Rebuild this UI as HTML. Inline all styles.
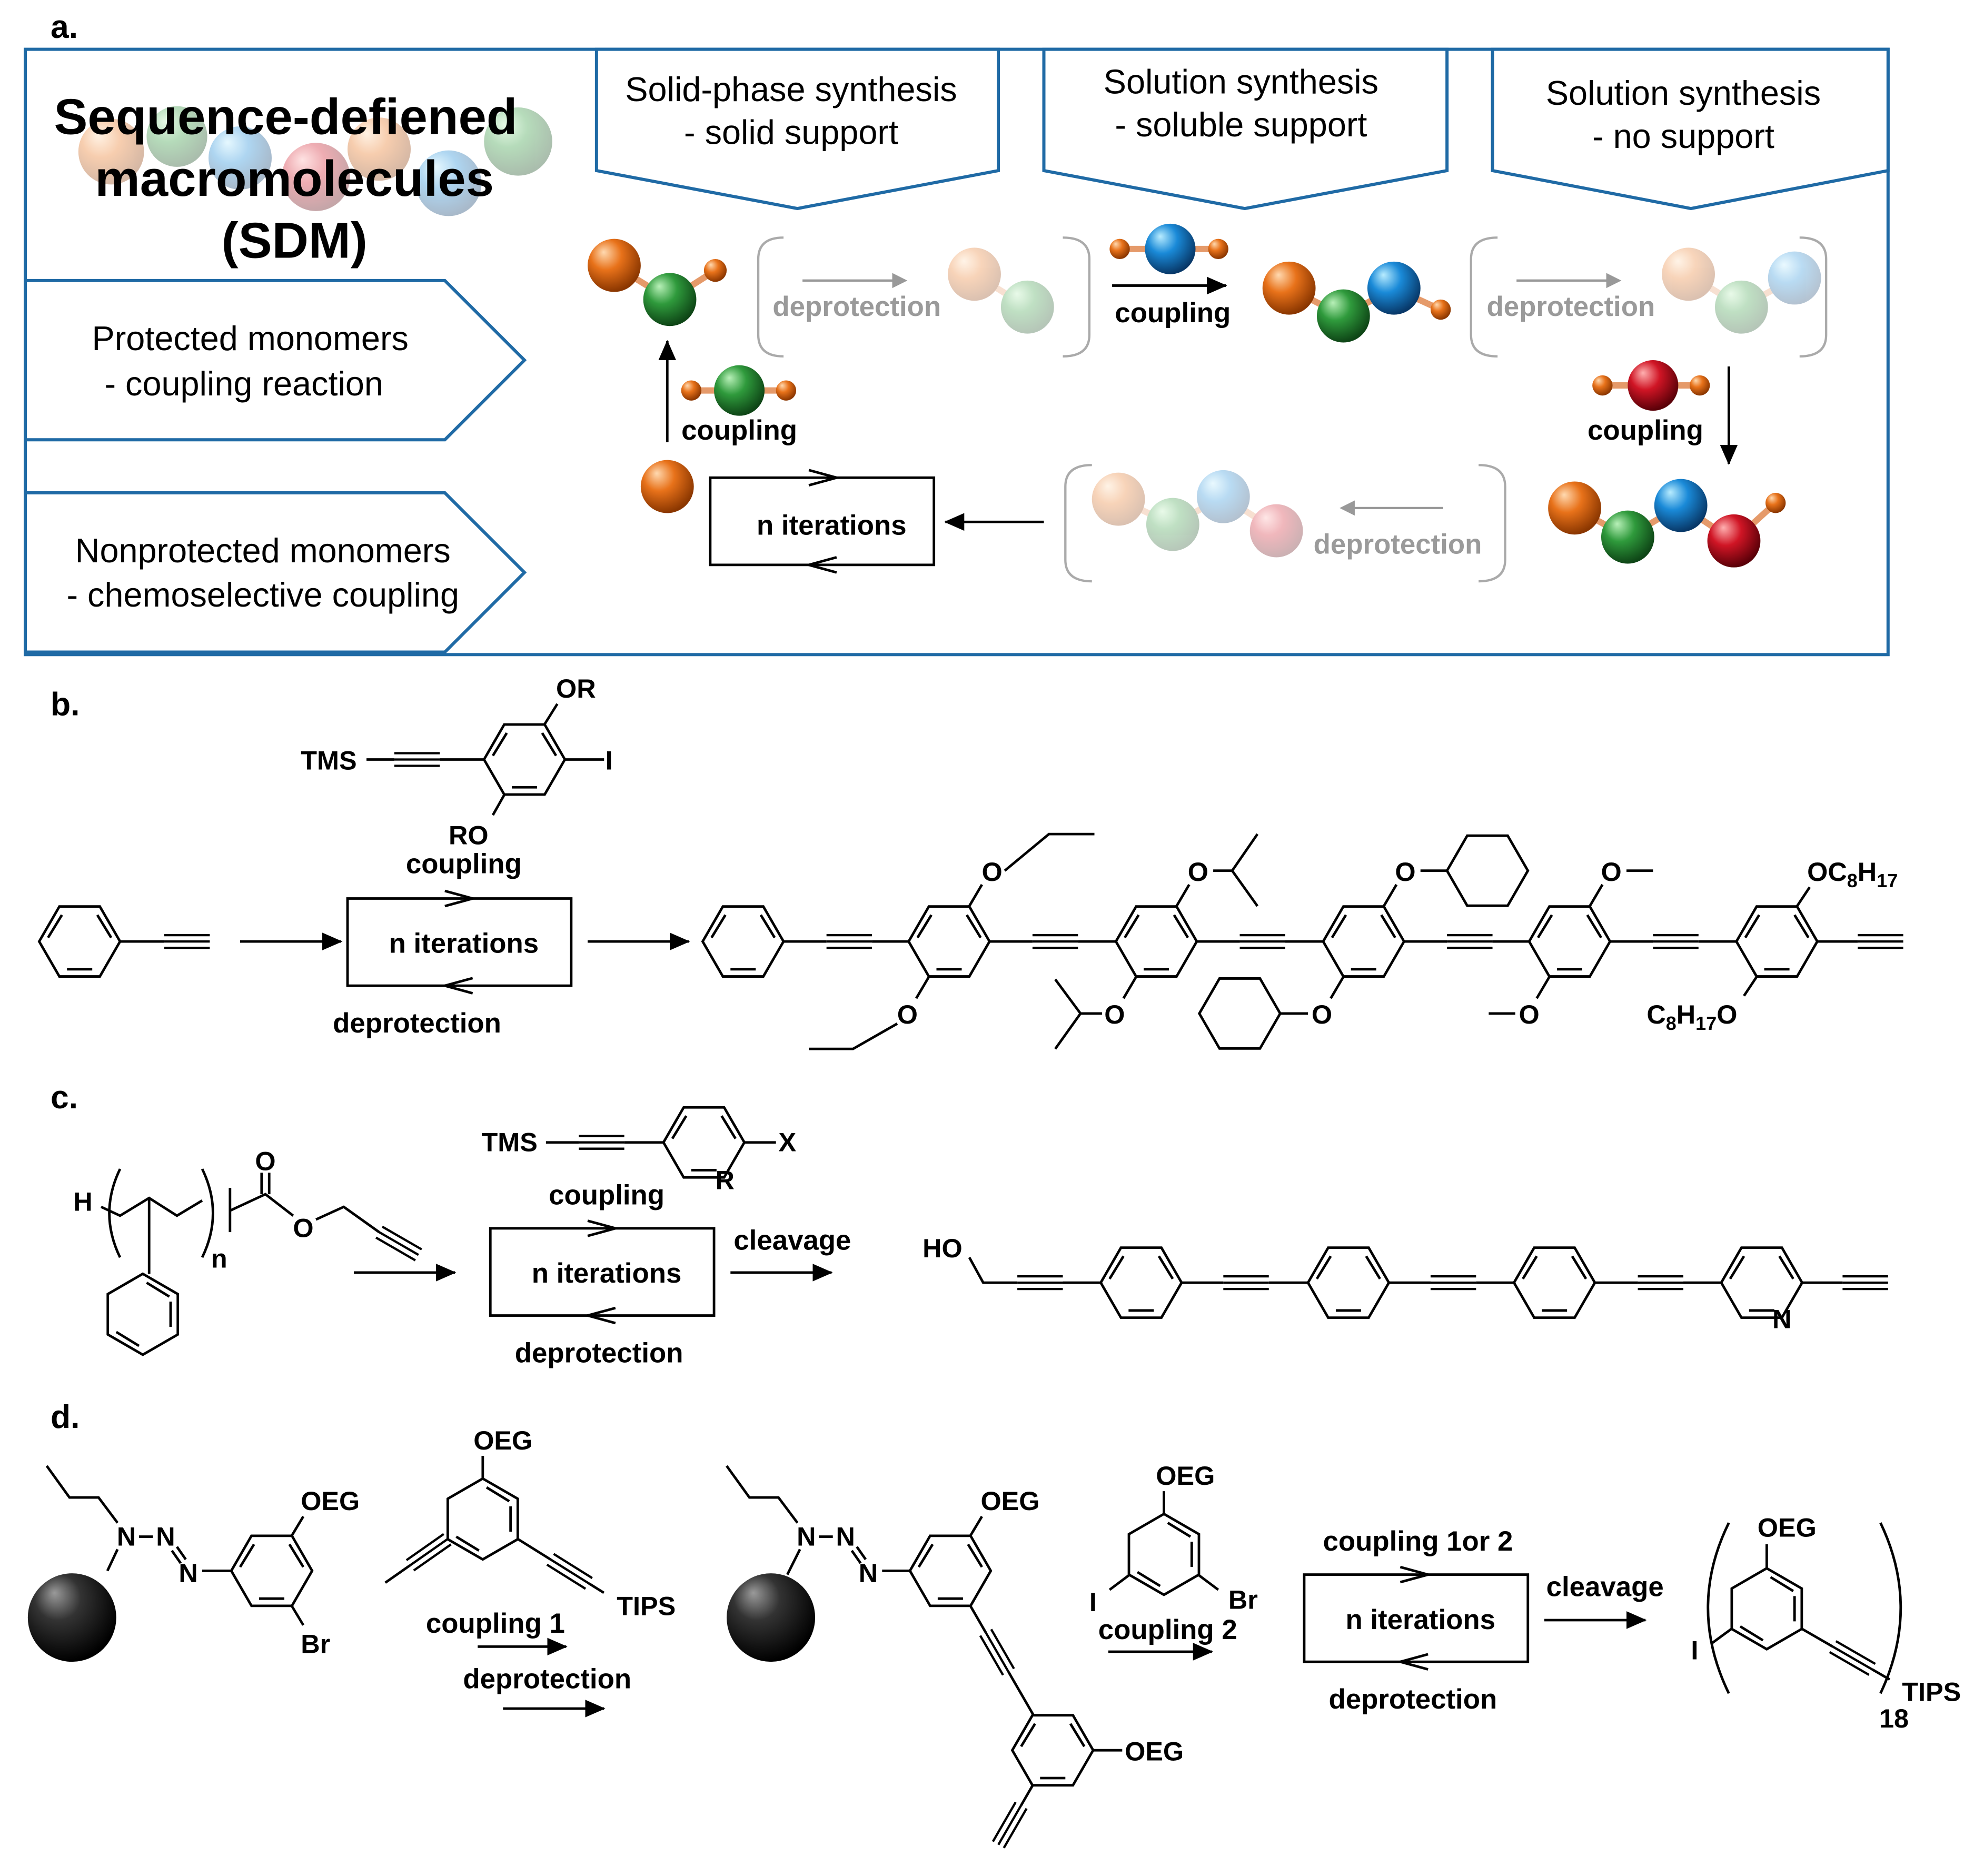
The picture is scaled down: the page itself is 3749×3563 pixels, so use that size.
<!DOCTYPE html>
<html><head><meta charset="utf-8">
<style>
html,body{margin:0;padding:0;background:#fff;}
svg{display:block;}
text{font-family:"Liberation Sans",Arial,sans-serif;}
.b{font-weight:bold;}
.t{font-size:27px;fill:#000;}
.l{font-size:22px;font-weight:bold;fill:#000;}
.c{font-size:21px;font-weight:bold;fill:#000;}
.g{font-size:22px;font-weight:bold;fill:#9a9a9a;}
.ln{stroke:#000;stroke-width:2;fill:none;}
</style></head>
<body>
<svg width="3749" height="3563" viewBox="0 0 1562 1484.5" xmlns="http://www.w3.org/2000/svg">
<defs>
<radialGradient id="gO" cx="0.4" cy="0.35" r="0.65" fx="0.3" fy="0.25"><stop offset="0" stop-color="#ffd9b0"/><stop offset="0.45" stop-color="#e8721a"/><stop offset="1" stop-color="#8a3600"/></radialGradient>
<radialGradient id="gG" cx="0.4" cy="0.35" r="0.65" fx="0.3" fy="0.25"><stop offset="0" stop-color="#b8f0b8"/><stop offset="0.45" stop-color="#2f9a3c"/><stop offset="1" stop-color="#0e4516"/></radialGradient>
<radialGradient id="gB" cx="0.4" cy="0.35" r="0.65" fx="0.3" fy="0.25"><stop offset="0" stop-color="#b8ecff"/><stop offset="0.45" stop-color="#1a8ad8"/><stop offset="1" stop-color="#083868"/></radialGradient>
<radialGradient id="gR" cx="0.4" cy="0.35" r="0.65" fx="0.3" fy="0.25"><stop offset="0" stop-color="#ffb0b0"/><stop offset="0.45" stop-color="#d01525"/><stop offset="1" stop-color="#5a0008"/></radialGradient>
<radialGradient id="gK" cx="0.4" cy="0.35" r="0.65" fx="0.3" fy="0.22"><stop offset="0" stop-color="#9a9a9a"/><stop offset="0.4" stop-color="#333"/><stop offset="1" stop-color="#000"/></radialGradient>
<symbol id="hx" overflow="visible">
<polygon points="32,0 16,27.7 -16,27.7 -32,0 -16,-27.7 16,-27.7" fill="none" stroke="#000" stroke-width="2"/>
<line x1="14" y1="-21" x2="25" y2="-3" stroke="#000" stroke-width="2"/>
<line x1="10" y1="22" x2="-10" y2="22" stroke="#000" stroke-width="2"/>
<line x1="-25" y1="-3" x2="-14" y2="-21" stroke="#000" stroke-width="2"/>
</symbol>
<symbol id="hv" overflow="visible">
<polygon points="0,-32 27.7,-16 27.7,16 0,32 -27.7,16 -27.7,-16" fill="none" stroke="#000" stroke-width="2"/>
<line x1="21" y1="-14" x2="3" y2="-25" stroke="#000" stroke-width="2"/>
<line x1="22" y1="10" x2="22" y2="-10" stroke="#000" stroke-width="2"/>
<line x1="-3" y1="25" x2="-21" y2="14" stroke="#000" stroke-width="2"/>
</symbol>
<symbol id="cy" overflow="visible"><polygon points="32,0 16,27.7 -16,27.7 -32,0 -16,-27.7 16,-27.7" fill="none" stroke="#000" stroke-width="2"/></symbol>
<symbol id="tb" overflow="visible"><line x1="0" y1="-5" x2="36" y2="-5" stroke="#000" stroke-width="1.8"/><line x1="0" y1="0" x2="36" y2="0" stroke="#000" stroke-width="1.8"/><line x1="0" y1="5" x2="36" y2="5" stroke="#000" stroke-width="1.8"/></symbol>
<marker id="ahg" markerWidth="12" markerHeight="12" refX="10" refY="6" orient="auto" markerUnits="userSpaceOnUse" viewBox="0 0 12 12"><path d="M0,0 L12,6 L0,12z" fill="#999"/></marker>
<marker id="ah2" markerWidth="16" markerHeight="14" refX="15" refY="7" orient="auto" markerUnits="userSpaceOnUse" viewBox="0 0 16 14"><path d="M0,0 L16,7 L0,14z" fill="#000"/></marker>
</defs>

<!-- ============ PANEL A ============ -->
<text x="40" y="30" class="b" font-size="26">a.</text>
<rect x="20" y="39" width="1474" height="479" fill="none" stroke="#1f6aa5" stroke-width="2.5"/>
<g fill="#fff" stroke="#1f6aa5" stroke-width="2.5">
<polygon points="472,39 790,39 790,135 631,165 472,135"/>
<polygon points="826,39 1145,39 1145,135 985,165 826,135"/>
<polygon points="1181,39 1494,39 1494,135 1338,165 1181,135"/>
<polygon points="20,222 352,222 415,285 352,348 20,348"/>
<polygon points="20,390 352,390 415,453 352,516 20,516"/>
</g>
<text x="626" y="80" class="t" text-anchor="middle">Solid-phase synthesis</text>
<text x="626" y="114" class="t" text-anchor="middle">- solid support</text>
<text x="982" y="74" class="t" text-anchor="middle">Solution synthesis</text>
<text x="982" y="108" class="t" text-anchor="middle">- soluble support</text>
<text x="1332" y="83" class="t" text-anchor="middle">Solution synthesis</text>
<text x="1332" y="117" class="t" text-anchor="middle">- no support</text>
<text x="198" y="277" class="t" text-anchor="middle">Protected monomers</text>
<text x="193" y="313" class="t" text-anchor="middle">- coupling reaction</text>
<text x="208" y="445" class="t" text-anchor="middle">Nonprotected monomers</text>
<text x="208" y="480" class="t" text-anchor="middle">- chemoselective coupling</text>
<g opacity="0.35">
<circle cx="88" cy="120" r="26" fill="url(#gO)"/><circle cx="140" cy="108" r="24" fill="url(#gG)"/>
<circle cx="190" cy="125" r="25" fill="url(#gB)"/><circle cx="250" cy="140" r="27" fill="url(#gR)"/>
<circle cx="300" cy="118" r="25" fill="url(#gO)"/><circle cx="355" cy="145" r="26" fill="url(#gB)"/>
<circle cx="410" cy="112" r="27" fill="url(#gG)"/>
</g>
<text x="226" y="106" class="b" font-size="40" text-anchor="middle">Sequence-defiened</text>
<text x="233" y="155" class="b" font-size="40" text-anchor="middle">macromolecules</text>
<text x="233" y="204" class="b" font-size="40" text-anchor="middle">(SDM)</text>

<g stroke="#e59a6a" stroke-width="5">
<line x1="486" y1="210" x2="530" y2="237"/><line x1="530" y1="237" x2="566" y2="214"/>
<line x1="880" y1="197" x2="964" y2="197"/>
<line x1="1020" y1="228" x2="1063" y2="250"/><line x1="1063" y1="250" x2="1103" y2="228"/><line x1="1103" y1="228" x2="1140" y2="245"/>
<line x1="1268" y1="305" x2="1345" y2="305"/>
<line x1="547" y1="309" x2="622" y2="309"/>
<line x1="1246" y1="402" x2="1288" y2="425"/><line x1="1288" y1="425" x2="1330" y2="400"/><line x1="1330" y1="400" x2="1372" y2="428"/><line x1="1372" y1="428" x2="1405" y2="398"/>
</g>
<circle cx="486" cy="210" r="21" fill="url(#gO)"/><circle cx="530" cy="237" r="21" fill="url(#gG)"/><circle cx="566" cy="214" r="9" fill="url(#gO)"/>
<circle cx="886" cy="197" r="8" fill="url(#gO)"/><circle cx="926" cy="197" r="20" fill="url(#gB)"/><circle cx="964" cy="197" r="8" fill="url(#gO)"/>
<circle cx="1020" cy="228" r="21" fill="url(#gO)"/><circle cx="1063" cy="250" r="21" fill="url(#gG)"/><circle cx="1103" cy="228" r="21" fill="url(#gB)"/><circle cx="1140" cy="245" r="8" fill="url(#gO)"/>
<circle cx="1268" cy="305" r="8" fill="url(#gO)"/><circle cx="1308" cy="305" r="20" fill="url(#gR)"/><circle cx="1345" cy="305" r="8" fill="url(#gO)"/>
<circle cx="547" cy="309" r="8" fill="url(#gO)"/><circle cx="585" cy="309" r="20" fill="url(#gG)"/><circle cx="622" cy="309" r="8" fill="url(#gO)"/>
<circle cx="1246" cy="402" r="21" fill="url(#gO)"/><circle cx="1288" cy="425" r="21" fill="url(#gG)"/><circle cx="1330" cy="400" r="21" fill="url(#gB)"/><circle cx="1372" cy="428" r="21" fill="url(#gR)"/><circle cx="1405" cy="398" r="8" fill="url(#gO)"/>
<circle cx="528" cy="385" r="21" fill="url(#gO)"/>
<g opacity="0.3">
<line x1="771" y1="217" x2="813" y2="243" stroke="#e59a6a" stroke-width="5"/>
<circle cx="771" cy="217" r="21" fill="url(#gO)"/><circle cx="813" cy="243" r="21" fill="url(#gG)"/>
<line x1="1336" y1="217" x2="1378" y2="243" stroke="#e59a6a" stroke-width="5"/><line x1="1378" y1="243" x2="1420" y2="220" stroke="#e59a6a" stroke-width="5"/>
<circle cx="1336" cy="217" r="21" fill="url(#gO)"/><circle cx="1378" cy="243" r="21" fill="url(#gG)"/><circle cx="1420" cy="220" r="21" fill="url(#gB)"/>
<line x1="885" y1="395" x2="928" y2="415" stroke="#e59a6a" stroke-width="5"/><line x1="928" y1="415" x2="968" y2="393" stroke="#e59a6a" stroke-width="5"/><line x1="968" y1="393" x2="1010" y2="420" stroke="#e59a6a" stroke-width="5"/>
<circle cx="885" cy="395" r="21" fill="url(#gO)"/><circle cx="928" cy="415" r="21" fill="url(#gG)"/><circle cx="968" cy="393" r="21" fill="url(#gB)"/><circle cx="1010" cy="420" r="21" fill="url(#gR)"/>
</g>
<g fill="none" stroke="#aaa" stroke-width="1.8">
<path d="M620,188 Q600,188 600,205 L600,265 Q600,282 620,282"/><path d="M841,188 Q862,188 862,205 L862,265 Q862,282 841,282"/>
<path d="M1185,188 Q1164,188 1164,205 L1164,265 Q1164,282 1185,282"/><path d="M1424,188 Q1445,188 1445,205 L1445,265 Q1445,282 1424,282"/>
<path d="M864,368 Q843,368 843,385 L843,443 Q843,460 864,460"/><path d="M1170,368 Q1191,368 1191,385 L1191,443 Q1191,460 1170,460"/>
</g>
<g stroke="#999" stroke-width="1.8">
<line x1="635" y1="222" x2="716" y2="222" marker-end="url(#ahg)"/>
<line x1="1200" y1="222" x2="1281" y2="222" marker-end="url(#ahg)"/>
<line x1="1142" y1="402" x2="1062" y2="402" marker-end="url(#ahg)"/>
</g>
<text x="678" y="250" class="g" text-anchor="middle">deprotection</text>
<text x="1243" y="250" class="g" text-anchor="middle">deprotection</text>
<text x="1106" y="438" class="g" text-anchor="middle">deprotection</text>
<g stroke="#000" stroke-width="2">
<line x1="880" y1="226" x2="970" y2="226" marker-end="url(#ah2)"/>
<line x1="1368" y1="290" x2="1368" y2="367" marker-end="url(#ah2)"/>
<line x1="826" y1="413" x2="748" y2="413" marker-end="url(#ah2)"/>
<line x1="528" y1="350" x2="528" y2="270" marker-end="url(#ah2)"/>
</g>
<text x="928" y="255" class="l" text-anchor="middle">coupling</text>
<text x="1302" y="348" class="l" text-anchor="middle">coupling</text>
<text x="585" y="348" class="l" text-anchor="middle">coupling</text>
<rect x="562" y="378" width="177" height="69" fill="none" stroke="#000" stroke-width="2"/>
<text x="658" y="423" class="l" text-anchor="middle">n iterations</text>
<path d="M640,372 L662,378 L640,384" fill="none" stroke="#000" stroke-width="2"/>
<path d="M662,441 L640,447 L662,453" fill="none" stroke="#000" stroke-width="2"/>

<!-- ============ PANEL B ============ -->
<text x="40" y="566" class="b" font-size="26">b.</text>
<text x="238" y="609" class="c">TMS</text>
<line x1="290" y1="601" x2="312" y2="601" class="ln"/><use href="#tb" x="312" y="601"/><line x1="348" y1="601" x2="383" y2="601" class="ln"/>
<use href="#hx" x="415" y="601"/>
<line x1="431" y1="573" x2="441" y2="557" class="ln"/><text x="440" y="552" class="c">OR</text>
<line x1="447" y1="601" x2="478" y2="601" class="ln"/><text x="479" y="609" class="c">I</text>
<line x1="399" y1="629" x2="390" y2="645" class="ln"/><text x="355" y="668" class="c">RO</text>
<text x="367" y="691" class="l" text-anchor="middle">coupling</text>
<rect x="275" y="711" width="177" height="69" fill="none" stroke="#000" stroke-width="2"/>
<text x="367" y="754" class="l" text-anchor="middle">n iterations</text>
<path d="M352,705 L374,711 L352,717" fill="none" stroke="#000" stroke-width="2"/>
<path d="M374,774 L352,780 L374,786" fill="none" stroke="#000" stroke-width="2"/>
<text x="330" y="817" class="l" text-anchor="middle">deprotection</text>
<use href="#hx" x="63" y="745"/>
<line x1="95" y1="745" x2="130" y2="745" class="ln"/><use href="#tb" x="130" y="745"/>
<line x1="190" y1="745" x2="270" y2="745" stroke="#000" stroke-width="2" marker-end="url(#ah2)"/>
<line x1="465" y1="745" x2="545" y2="745" stroke="#000" stroke-width="2" marker-end="url(#ah2)"/>
<use href="#hx" x="588" y="745"/>
<use href="#hx" x="751" y="745"/><use href="#hx" x="915" y="745"/><use href="#hx" x="1079" y="745"/><use href="#hx" x="1242" y="745"/><use href="#hx" x="1406" y="745"/>
<g>
<line x1="620" y1="745" x2="654" y2="745" class="ln"/><use href="#tb" x="654" y="745"/><line x1="690" y1="745" x2="719" y2="745" class="ln"/>
<line x1="783" y1="745" x2="817" y2="745" class="ln"/><use href="#tb" x="817" y="745"/><line x1="853" y1="745" x2="883" y2="745" class="ln"/>
<line x1="947" y1="745" x2="981" y2="745" class="ln"/><use href="#tb" x="981" y="745"/><line x1="1017" y1="745" x2="1047" y2="745" class="ln"/>
<line x1="1111" y1="745" x2="1145" y2="745" class="ln"/><use href="#tb" x="1145" y="745"/><line x1="1181" y1="745" x2="1210" y2="745" class="ln"/>
<line x1="1274" y1="745" x2="1308" y2="745" class="ln"/><use href="#tb" x="1308" y="745"/><line x1="1344" y1="745" x2="1374" y2="745" class="ln"/>
<line x1="1438" y1="745" x2="1470" y2="745" class="ln"/><use href="#tb" x="1470" y="745"/>
</g>
<g class="ln">
<line x1="767" y1="717" x2="777" y2="700"/><polyline points="795,689 830,660 866,660"/>
<line x1="735" y1="773" x2="725" y2="790"/><polyline points="710,810 675,830 640,830"/>
<line x1="931" y1="717" x2="941" y2="700"/><polyline points="995,660 975,689 995,717"/><line x1="960" y1="689" x2="975" y2="689"/>
<line x1="899" y1="773" x2="889" y2="790"/><polyline points="835,775 855,802 835,830"/><line x1="855" y1="802" x2="872" y2="802"/>
<line x1="1095" y1="717" x2="1105" y2="700"/><line x1="1124" y1="689" x2="1145" y2="689"/>
<line x1="1063" y1="773" x2="1053" y2="790"/><line x1="1035" y1="802" x2="1013" y2="802"/>
<line x1="1258" y1="717" x2="1268" y2="700"/><line x1="1287" y1="689" x2="1308" y2="689"/>
<line x1="1226" y1="773" x2="1216" y2="790"/><line x1="1178" y1="802" x2="1199" y2="802"/>
<line x1="1422" y1="717" x2="1432" y2="702"/>
<line x1="1390" y1="773" x2="1380" y2="788"/>
</g>
<use href="#cy" x="1177" y="689"/><use href="#cy" x="981" y="802"/>
<text x="785" y="697" class="c" text-anchor="middle">O</text>
<text x="718" y="810" class="c" text-anchor="middle">O</text>
<text x="948" y="697" class="c" text-anchor="middle">O</text>
<text x="882" y="810" class="c" text-anchor="middle">O</text>
<text x="1112" y="697" class="c" text-anchor="middle">O</text>
<text x="1046" y="810" class="c" text-anchor="middle">O</text>
<text x="1275" y="697" class="c" text-anchor="middle">O</text>
<text x="1210" y="810" class="c" text-anchor="middle">O</text>
<text x="1430" y="697" class="c">OC<tspan font-size="15" dy="5">8</tspan><tspan dy="-5">H</tspan><tspan font-size="15" dy="5">17</tspan></text>
<text x="1303" y="810" class="c">C<tspan font-size="15" dy="5">8</tspan><tspan dy="-5">H</tspan><tspan font-size="15" dy="5">17</tspan><tspan dy="-5">O</tspan></text>

<!-- ============ PANEL C ============ -->
<text x="40" y="877" class="b" font-size="26">c.</text>
<text x="58" y="958" class="c">H</text>
<path d="M95,925 Q78,960 95,995" class="ln"/><path d="M160,925 Q177,960 160,995" class="ln"/>
<polyline points="80,955 95,962 118,948 140,962 160,950" class="ln"/>
<line x1="118" y1="948" x2="118" y2="1008" class="ln"/>
<use href="#hv" x="113" y="1040"/>
<text x="167" y="1003" class="c">n</text>
<line x1="182" y1="940" x2="182" y2="975" class="ln"/>
<polyline points="182,958 210,945 232,962" class="ln"/>
<line x1="207" y1="945" x2="207" y2="928" class="ln"/><line x1="213" y1="945" x2="213" y2="928" class="ln"/>
<text x="210" y="926" class="c" text-anchor="middle">O</text>
<text x="240" y="979" class="c" text-anchor="middle">O</text>
<polyline points="250,965 272,955 300,975" class="ln"/>
<g transform="translate(300,975) rotate(30)"><use href="#tb" x="0" y="0"/></g>
<line x1="280" y1="1007" x2="360" y2="1007" stroke="#000" stroke-width="2" marker-end="url(#ah2)"/>
<text x="381" y="911" class="c">TMS</text>
<line x1="432" y1="904" x2="458" y2="904" class="ln"/><use href="#tb" x="458" y="904"/><line x1="494" y1="904" x2="525" y2="904" class="ln"/>
<use href="#hx" x="557" y="904"/>
<line x1="589" y1="904" x2="614" y2="904" class="ln"/><text x="616" y="911" class="c">X</text>
<text x="566" y="941" class="c">R</text>
<text x="480" y="953" class="l" text-anchor="middle">coupling</text>
<rect x="388" y="972" width="177" height="69" fill="none" stroke="#000" stroke-width="2"/>
<text x="480" y="1015" class="l" text-anchor="middle">n iterations</text>
<path d="M465,966 L487,972 L465,978" fill="none" stroke="#000" stroke-width="2"/>
<path d="M487,1035 L465,1041 L487,1047" fill="none" stroke="#000" stroke-width="2"/>
<text x="474" y="1078" class="l" text-anchor="middle">deprotection</text>
<text x="627" y="989" class="l" text-anchor="middle">cleavage</text>
<line x1="578" y1="1007" x2="658" y2="1007" stroke="#000" stroke-width="2" marker-end="url(#ah2)"/>
<text x="730" y="995" class="c">HO</text>
<polyline points="767,995 778,1015 805,1015" class="ln"/>
<use href="#tb" x="805" y="1015"/><line x1="841" y1="1015" x2="871" y2="1015" class="ln"/>
<use href="#hx" x="903" y="1015"/>
<line x1="935" y1="1015" x2="968" y2="1015" class="ln"/><use href="#tb" x="968" y="1015"/><line x1="1004" y1="1015" x2="1035" y2="1015" class="ln"/>
<use href="#hx" x="1067" y="1015"/>
<line x1="1099" y1="1015" x2="1132" y2="1015" class="ln"/><use href="#tb" x="1132" y="1015"/><line x1="1168" y1="1015" x2="1198" y2="1015" class="ln"/>
<use href="#hx" x="1230" y="1015"/>
<line x1="1262" y1="1015" x2="1296" y2="1015" class="ln"/><use href="#tb" x="1296" y="1015"/><line x1="1332" y1="1015" x2="1362" y2="1015" class="ln"/>
<use href="#hx" x="1394" y="1015"/>
<text x="1410" y="1051" class="c" text-anchor="middle">N</text>
<line x1="1426" y1="1015" x2="1458" y2="1015" class="ln"/><use href="#tb" x="1458" y="1015"/>

<!-- ============ PANEL D ============ -->
<text x="40" y="1130" class="b" font-size="26">d.</text>
<circle cx="57" cy="1280" r="35" fill="url(#gK)"/>
<polyline points="37,1160 55,1185 78,1185 93,1205" class="ln"/>
<line x1="85" y1="1243" x2="93" y2="1226" class="ln"/>
<text x="100" y="1223" class="c" text-anchor="middle">N</text><line x1="110" y1="1216" x2="121" y2="1216" class="ln"/>
<text x="131" y="1223" class="c" text-anchor="middle">N</text>
<line x1="136" y1="1227" x2="143" y2="1237" class="ln"/><line x1="140" y1="1224" x2="147" y2="1234" class="ln"/>
<text x="149" y="1252" class="c" text-anchor="middle">N</text>
<line x1="160" y1="1243" x2="183" y2="1243" class="ln"/>
<use href="#hx" x="215" y="1243"/>
<line x1="231" y1="1215" x2="240" y2="1200" class="ln"/><text x="238" y="1195" class="c">OEG</text>
<line x1="231" y1="1271" x2="240" y2="1286" class="ln"/><text x="238" y="1308" class="c">Br</text>
<use href="#hv" x="382" y="1202"/>
<line x1="382" y1="1170" x2="382" y2="1152" class="ln"/><text x="398" y="1147" class="c" text-anchor="middle">OEG</text>
<g transform="translate(354,1218) rotate(145)"><use href="#tb" x="0" y="0"/><line x1="36" y1="0" x2="60" y2="0" class="ln"/></g>
<g transform="translate(410,1218) rotate(32)"><line x1="0" y1="0" x2="30" y2="0" class="ln"/><use href="#tb" x="30" y="0"/><line x1="66" y1="0" x2="80" y2="0" class="ln"/></g>
<text x="488" y="1278" class="c">TIPS</text>
<text x="392" y="1292" class="l" text-anchor="middle">coupling 1</text>
<line x1="378" y1="1303" x2="448" y2="1303" stroke="#000" stroke-width="2" marker-end="url(#ah2)"/>
<text x="433" y="1336" class="l" text-anchor="middle">deprotection</text>
<line x1="398" y1="1352" x2="478" y2="1352" stroke="#000" stroke-width="2" marker-end="url(#ah2)"/>
<circle cx="610" cy="1280" r="35" fill="url(#gK)"/>
<polyline points="575,1160 593,1185 616,1185 631,1205" class="ln"/>
<line x1="623" y1="1246" x2="633" y2="1226" class="ln"/>
<text x="638" y="1223" class="c" text-anchor="middle">N</text><line x1="648" y1="1216" x2="659" y2="1216" class="ln"/>
<text x="669" y="1223" class="c" text-anchor="middle">N</text>
<line x1="674" y1="1227" x2="681" y2="1237" class="ln"/><line x1="678" y1="1224" x2="685" y2="1234" class="ln"/>
<text x="687" y="1252" class="c" text-anchor="middle">N</text>
<line x1="698" y1="1243" x2="720" y2="1243" class="ln"/>
<use href="#hx" x="752" y="1243"/>
<line x1="768" y1="1215" x2="777" y2="1200" class="ln"/><text x="776" y="1195" class="c">OEG</text>
<g transform="translate(768,1271) rotate(60)"><line x1="0" y1="0" x2="24" y2="0" class="ln"/><use href="#tb" x="24" y="0"/><line x1="60" y1="0" x2="99" y2="0" class="ln"/></g>
<use href="#hx" x="833" y="1385"/>
<line x1="865" y1="1385" x2="888" y2="1385" class="ln"/><text x="890" y="1393" class="c">OEG</text>
<g transform="translate(817,1413) rotate(120)"><line x1="0" y1="0" x2="18" y2="0" class="ln"/><use href="#tb" x="18" y="0"/></g>
<use href="#hv" x="921" y="1230"/>
<line x1="921" y1="1198" x2="921" y2="1180" class="ln"/><text x="938" y="1175" class="c" text-anchor="middle">OEG</text>
<line x1="894" y1="1246" x2="878" y2="1258" class="ln"/><text x="862" y="1275" class="c">I</text>
<line x1="948" y1="1246" x2="964" y2="1258" class="ln"/><text x="972" y="1273" class="c">Br</text>
<text x="924" y="1297" class="l" text-anchor="middle">coupling 2</text>
<line x1="877" y1="1307" x2="959" y2="1307" stroke="#000" stroke-width="2" marker-end="url(#ah2)"/>
<text x="1122" y="1227" class="l" text-anchor="middle">coupling 1or 2</text>
<rect x="1032" y="1246" width="177" height="69" fill="none" stroke="#000" stroke-width="2"/>
<text x="1124" y="1289" class="l" text-anchor="middle">n iterations</text>
<path d="M1108,1240 L1130,1246 L1108,1252" fill="none" stroke="#000" stroke-width="2"/>
<path d="M1130,1309 L1108,1315 L1130,1321" fill="none" stroke="#000" stroke-width="2"/>
<text x="1118" y="1352" class="l" text-anchor="middle">deprotection</text>
<text x="1270" y="1263" class="l" text-anchor="middle">cleavage</text>
<line x1="1222" y1="1282" x2="1302" y2="1282" stroke="#000" stroke-width="2" marker-end="url(#ah2)"/>
<path d="M1368,1205 Q1335,1272 1368,1340" class="ln"/><path d="M1488,1205 Q1520,1272 1488,1340" class="ln"/>
<use href="#hv" x="1398" y="1273"/>
<line x1="1398" y1="1241" x2="1398" y2="1222" class="ln"/><text x="1414" y="1216" class="c" text-anchor="middle">OEG</text>
<line x1="1370" y1="1289" x2="1355" y2="1300" class="ln"/><text x="1338" y="1313" class="c">I</text>
<g transform="translate(1426,1289) rotate(30)"><line x1="0" y1="0" x2="28" y2="0" class="ln"/><use href="#tb" x="28" y="0"/><line x1="64" y1="0" x2="80" y2="0" class="ln"/></g>
<text x="1505" y="1346" class="c">TIPS</text>
<text x="1487" y="1367" class="c">18</text>
</svg>
</body></html>
